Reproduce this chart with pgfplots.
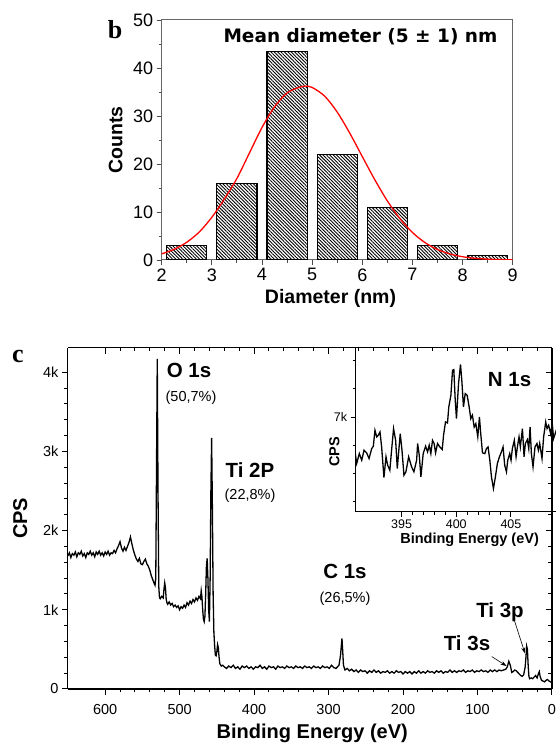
\documentclass[border=0pt]{standalone}
\usepackage{fontspec}
\setmainfont{Liberation Sans}
\newfontfamily\dejavu{DejaVu Sans}
\newfontfamily\serifb{Liberation Serif}
\usepackage{pgfplots}
\pgfplotsset{compat=1.18}
\usetikzlibrary{patterns.meta,arrows.meta}
\newcommand{\fs}[1]{\fontsize{#1}{#1}\selectfont}

\pgfplotstableread{
E c
650 1.68
648 1.72
646 1.66
644 1.71
642 1.69
640 1.73
638 1.67
636 1.72
634 1.70
632 1.74
630 1.68
628 1.71
626 1.66
624 1.72
622 1.70
620 1.74
618 1.69
616 1.72
614 1.67
612 1.73
610 1.70
608 1.74
606 1.69
604 1.72
602 1.68
600 1.73
598 1.70
596 1.74
594 1.69
592 1.72
590 1.71
588 1.75
586 1.72
584 1.77
582 1.81
580 1.86
578 1.78
576 1.74
574 1.79
572 1.75
570 1.80
568 1.85
566 1.92
564 1.83
562 1.75
560 1.69
558 1.64
556 1.61
554 1.65
552 1.58
550 1.57
548 1.61
546 1.64
544 1.58
542 1.55
540 1.50
538 1.43
536 1.38
534 1.33
533 1.31
532 1.40
531 2.80
530 4.17
529 2.50
528 1.30
527 1.15
526 1.14
524 1.17
522 1.15
521 1.26
520 1.34
519 1.28
518 1.13
517 1.09
516 1.07
514 1.10
512 1.06
510 1.08
508 1.04
506 1.06
504 1.03
502 1.05
500 1.00
498 1.04
496 1.02
494 1.06
492 1.03
490 1.09
488 1.06
486 1.11
484 1.08
482 1.13
480 1.10
478 1.15
476 1.12
474 1.17
472 1.14
471 1.24
470 1.16
469 1.00
468 0.88
467 0.85
466 0.92
465 1.20
464 1.55
463 1.65
462 1.40
461 1.00
460 0.85
459 1.40
458 2.50
457 3.17
456 2.30
455 1.20
454 0.72
453 0.55
452 0.43
451 0.42
450 0.47
449 0.56
448 0.52
447 0.40
446 0.32
444 0.29
442 0.30
440 0.28
437 0.26
434 0.29
431 0.27
428 0.30
425 0.26
422 0.28
419 0.25
416 0.29
413 0.27
410 0.29
407 0.26
404 0.28
401 0.25
398 0.28
395 0.27
392 0.30
389 0.26
386 0.28
383 0.25
380 0.29
377 0.27
374 0.28
371 0.25
368 0.29
365 0.27
362 0.28
359 0.26
356 0.29
353 0.27
350 0.28
347 0.26
344 0.29
341 0.27
338 0.28
335 0.26
332 0.29
329 0.27
326 0.28
323 0.26
320 0.29
317 0.27
314 0.28
311 0.26
308 0.29
305 0.27
302 0.28
299 0.26
296 0.30
293 0.27
290 0.26
288 0.28
286 0.30
284 0.42
282 0.64
281 0.48
280 0.30
278 0.24
275 0.26
272 0.23
269 0.25
266 0.22
263 0.24
260 0.21
257 0.24
254 0.22
251 0.23
248 0.20
245 0.23
242 0.21
239 0.24
236 0.21
233 0.23
230 0.20
227 0.22
224 0.21
221 0.23
218 0.20
215 0.22
212 0.20
209 0.23
206 0.21
203 0.22
200 0.19
197 0.22
194 0.20
191 0.22
188 0.19
185 0.22
182 0.20
179 0.23
176 0.20
173 0.22
170 0.20
167 0.23
164 0.21
161 0.22
158 0.20
155 0.23
152 0.21
149 0.23
146 0.20
143 0.22
140 0.21
137 0.24
134 0.21
131 0.23
128 0.21
125 0.23
122 0.22
119 0.24
116 0.21
113 0.23
110 0.22
107 0.24
104 0.21
101 0.23
98 0.22
95 0.24
92 0.22
89 0.23
86 0.21
83 0.24
80 0.22
77 0.24
74 0.22
71 0.24
68 0.23
65 0.24
62 0.25
60 0.28
58 0.35
56 0.30
54 0.21
52 0.22
50 0.24
48 0.23
46 0.21
44 0.19
42 0.17
40 0.16
38 0.18
36 0.28
35 0.40
34 0.54
33 0.50
32 0.30
31 0.16
30 0.13
28 0.14
26 0.13
24 0.15
22 0.17
20 0.14
18 0.20
17 0.22
16 0.16
14 0.11
12 0.10
10 0.09
8 0.11
6 0.12
4 0.10
2 0.09
0 0.08
}\xps

\pgfplotstableread{
E c
390.75 6.753
390.90 6.671
391.14 6.741
391.36 6.694
391.57 6.765
391.81 6.746
392.03 6.706
392.27 6.776
392.42 6.793
392.57 6.906
392.73 6.859
392.88 6.871
393.03 6.894
393.18 6.788
393.39 6.572
393.58 6.718
393.73 6.659
393.93 6.623
394.09 6.765
394.27 6.918
394.46 6.835
394.61 6.635
394.88 6.882
395.04 6.765
395.22 6.588
395.40 6.612
395.65 6.718
395.92 6.647
396.13 6.612
396.38 6.694
396.47 6.812
396.62 6.729
396.77 6.576
396.98 6.741
397.20 6.793
397.38 6.753
397.53 6.800
397.68 6.741
397.83 6.835
397.98 6.812
398.11 6.746
398.29 6.812
398.50 6.788
398.72 6.770
398.84 6.871
399.02 6.965
399.20 6.958
399.32 7.071
399.51 7.153
399.66 7.330
399.78 7.335
399.90 7.130
400.02 6.988
400.21 7.236
400.39 7.372
400.51 7.259
400.66 7.071
400.82 7.165
401.00 7.153
401.18 7.071
401.33 6.988
401.48 7.012
401.64 6.929
401.79 6.953
401.97 6.859
402.12 7.000
402.24 6.882
402.40 6.746
402.61 6.741
402.76 6.776
402.91 6.788
403.07 6.694
403.22 6.576
403.40 6.494
403.58 6.576
403.76 6.671
403.95 6.718
404.13 6.753
404.28 6.788
404.43 6.659
404.59 6.612
404.71 6.694
404.89 6.741
405.01 6.694
405.13 6.776
405.31 6.835
405.47 6.718
405.59 6.788
405.74 6.859
405.86 6.788
406.05 6.918
406.20 6.718
406.32 6.812
406.50 6.840
406.63 6.776
406.75 6.929
406.87 6.741
407.02 6.647
407.20 6.788
407.38 6.812
407.51 6.765
407.63 6.812
407.84 6.706
407.99 6.859
408.18 6.965
408.30 6.918
408.45 6.941
408.63 6.882
408.78 6.953
408.90 6.847
409.15 6.906
409.46 6.835
}\nls

\begin{document}
\begin{tikzpicture}[x=1pt,y=1pt]
% ---------------- panel b ----------------
\begin{axis}[at={(161.7pt,485pt)}, anchor=south west, scale only axis,
  width=351pt, height=240pt,
  xmin=2, xmax=9, ymin=0, ymax=50,
  xtick={2,3,...,9}, ytick={0,10,...,50},
  minor x tick num=1, minor y tick num=1,
  tick align=outside, xtick pos=bottom, ytick pos=left,
  major tick length=5pt, minor tick length=3pt,
  axis line style={black!60, line width=1pt},
  tick style={black!70, line width=0.9pt},
  ticklabel style={font=\fs{18}},
  /pgf/number format/assume math mode=true]
\addplot[ybar, bar width=0.8, draw=black, line width=1.1pt,
  pattern={Lines[angle=-45,distance=2.4pt,line width=0.9pt]}, pattern color=black]
  coordinates {(2.5,3) (3.5,16) (4.5,43.5) (5.5,22) (6.5,11) (7.5,3) (8.5,1)};
\addplot[red, line width=1.3pt, smooth, mark=none] coordinates {
(2,1.28)(2.25,2.23)(2.5,3.70)(2.75,5.84)(3,8.9)(3.25,12.7)(3.5,17.0)(3.75,22.3)
(4,27.6)(4.25,31.9)(4.5,34.8)(4.75,36.0)(4.87,36.2)(5,35.95)(5.25,34.14)
(5.5,30.81)(5.75,26.44)(6,21.56)(6.25,16.72)(6.5,12.31)(6.75,8.63)(7,5.74)
(7.25,3.63)(7.5,2.19)(7.75,1.25)(8,0.68)(8.25,0.35)(8.5,0.17)(8.75,0.08)(9,0.03)};
\end{axis}
\node[font=\serifb\bfseries\fs{26}] at (115,715) {b};
\node[font=\dejavu\bfseries\fs{18.5}] at (360.5,708) {Mean diameter (5 ± 1) nm};
\node[font=\bfseries\fs{19.5}, rotate=90] at (115.7,605) {Counts};
\node[font=\bfseries\fs{19.5}] at (330.5,446.7) {Diameter (nm)};

% ---------------- panel c ----------------
\begin{axis}[at={(67.9pt,56pt)}, anchor=south west, scale only axis,
  width=484.1pt, height=341.3pt,
  xmin=0, xmax=650, x dir=reverse, ymin=0, ymax=4.31,
  xtick={0,100,...,600}, ytick={0,1,2,3,4}, yticklabels={0,1k,2k,3k,4k},
  minor x tick num=4, minor y tick num=4,
  axis x line*=bottom, axis y line*=left, tick align=outside,
  major tick length=6pt, minor tick length=3.5pt,
  axis line style={-, line width=1.2pt},
  tick style={line width=1pt, black},
  ticklabel style={font=\fs{14.5}},
  xticklabel style={yshift=-6pt},
  /pgf/number format/assume math mode=true]
\addplot[black, line width=1.3pt, mark=none] table[x=E, y=c] {\xps};
\draw[-{Stealth[length=6pt,width=4pt]}, line width=0.6pt] (axis cs:81,0.41) -- (axis cs:61,0.29);
\draw[-{Stealth[length=6pt,width=4pt]}, line width=0.6pt] (axis cs:52,0.91) -- (axis cs:36.3,0.45);
\end{axis}

% inset
\begin{axis}[at={(355.6pt,233.3pt)}, anchor=south west, scale only axis,
  width=214.4pt, height=164pt,
  xmin=390.8, xmax=410.4, ymin=6.33, ymax=7.49,
  axis background/.style={fill=white},
  xtick={395,400,405}, ytick={7}, yticklabels={7k},
  minor x tick num=4, minor ytick={6.4,6.6,6.8,7.2,7.4},
  axis x line*=bottom, axis y line*=left, tick align=outside,
  major tick length=5pt, minor tick length=3pt,
  axis line style={-, line width=1.2pt},
  tick style={line width=0.9pt, black},
  ticklabel style={font=\fs{12.5}},
  /pgf/number format/assume math mode=true]
\addplot[black, line width=1.3pt, mark=none] table[x=E, y=c] {\nls};
\end{axis}

% top/right ticks of the main panel (inward)
\begin{axis}[at={(67.9pt,56pt)}, anchor=south west, scale only axis,
  width=484.1pt, height=341.3pt,
  xmin=0, xmax=650, x dir=reverse, ymin=0, ymax=4.31,
  xtick={0,100,...,600}, ytick={0,1,2,3,4},
  minor x tick num=4, minor y tick num=4,
  xticklabels={}, yticklabels={},
  axis x line*=top, axis y line*=right, tick align=inside,
  major tick length=6pt, minor tick length=3.5pt,
  axis line style={-, line width=1.2pt},
  tick style={line width=1pt, black}]
\end{axis}

\node[font=\serifb\bfseries\fs{26}] at (18,389) {c};
\node[font=\bfseries\fs{20}, rotate=90] at (20.3,226.7) {CPS};
\node[font=\bfseries\fs{20}] at (312.3,11.7) {Binding Energy (eV)};
\node[font=\bfseries\fs{20.5}] at (189,375) {O 1s};
\node[font=\fs{14.5}] at (191,347) {(50,7\%)};
\node[font=\bfseries\fs{20.5}] at (250,275) {Ti 2P};
\node[font=\fs{14.5}] at (250,249) {(22,8\%)};
\node[font=\bfseries\fs{20.5}] at (345,173.3) {C 1s};
\node[font=\fs{14.5}] at (345,146.7) {(26,5\%)};
\node[font=\bfseries\fs{20.5}] at (500,132.3) {Ti 3p};
\node[font=\bfseries\fs{20.5}] at (467,101.7) {Ti 3s};
\node[font=\bfseries\fs{20.5}] at (509.6,365) {N 1s};
\node[font=\bfseries\fs{14.5}, rotate=90] at (334.4,293.3) {CPS};
\node[font=\bfseries\fs{14.5}] at (469.6,205) {Binding Energy (eV)};

\pgfresetboundingbox
\path[use as bounding box] (0,0) rectangle (555,745);
\end{tikzpicture}
\end{document}
